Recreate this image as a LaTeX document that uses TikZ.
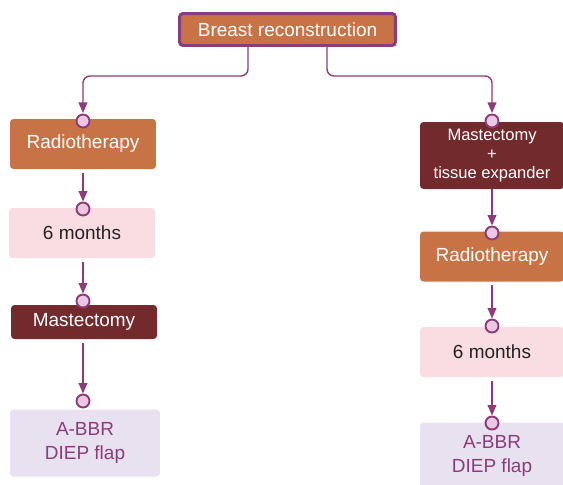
\documentclass[tikz,border=0pt]{standalone}
\usepackage{fontspec}
\setmainfont{Liberation Sans}
\usetikzlibrary{arrows.meta,positioning,calc}
\definecolor{boxorange}{RGB}{200,115,70}
\definecolor{boxred}{RGB}{115,42,45}
\definecolor{boxpink}{RGB}{250,221,226}
\definecolor{boxlilac}{RGB}{232,225,240}
\definecolor{linkpurple}{RGB}{140,60,120}
\definecolor{dotpink}{RGB}{235,200,225}
\definecolor{textgrey}{RGB}{35,35,35}

\begin{document}
\begin{tikzpicture}[x=0.02cm, y=-0.02cm,
  box/.style={rectangle, rounded corners=2pt, align=center, inner sep=0pt, minimum width=2.92cm, minimum height=1cm, font=\fontsize{10.8}{14}\selectfont},
  dot/.style={circle, draw=linkpurple, fill=dotpink, line width=1.1pt, minimum size=0.26cm, inner sep=0pt},
  link/.style={draw=linkpurple, line width=0.8pt, rounded corners=4pt, -{Triangle[length=6pt,width=5pt]}},
]
\path[use as bounding box, clip] (0,0) rectangle (563,484);

\node[box, draw=linkpurple, line width=1.7pt, fill=boxorange, text=white, minimum width=4.32cm, minimum height=0.64cm] (top) at (287.5,29.5) {Breast reconstruction};

% left branch
\node[box, fill=boxorange, text=white] (radl) at (83,144) {Radiotherapy};
\node[box, fill=boxpink, text=textgrey] (sixl) at (82,233) {6 months};
\node[box, fill=boxred, text=white, minimum height=0.68cm] (mastl) at (84,322) {Mastectomy};
\node[box, fill=boxlilac, text=linkpurple, minimum width=3cm, minimum height=1.34cm] (flapl) at (85,443) {A-BBR\\DIEP flap};

% right branch
\node[box, fill=boxred, text=white, minimum width=2.88cm, minimum height=1.34cm, font=\fontsize{9.4}{10.8}\selectfont] (mter) at (492,155.5) {Mastectomy\\+\\tissue expander};
\node[box, fill=boxorange, text=white, minimum width=2.88cm] (radr) at (492,256.5) {Radiotherapy};
\node[box, fill=boxpink, text=textgrey, minimum width=2.88cm] (sixr) at (492,352) {6 months};
\node[box, fill=boxlilac, text=linkpurple, minimum width=2.88cm, minimum height=1.34cm] (flapr) at (492,456) {A-BBR\\DIEP flap};

% connectors
\draw[link] ([xshift=-0.79cm]top.south) -- ++(0,29) -| (83,113);
\draw[link] ([xshift=0.79cm]top.south) -- ++(0,29) -| (492,113);

\node[dot] (dl1) at (83,121) {};
\node[dot] (dl2) at (83,209) {};
\node[dot] (dl3) at (83,301) {};
\node[dot] (dl4) at (83,401) {};
\node[dot] (dr1) at (492,121) {};
\node[dot] (dr2) at (492,233) {};
\node[dot] (dr3) at (492,326) {};
\node[dot] (dr4) at (492,423) {};

\draw[link] ([yshift=-2pt]radl.south -| dl2) -- (dl2.north);
\draw[link] ([yshift=-2pt]sixl.south -| dl3) -- (dl3.north);
\draw[link] ([yshift=-2pt]mastl.south -| dl4) -- (dl4.north);
\draw[link] (mter.south) -- (dr2.north);
\draw[link] ([yshift=-2pt]radr.south) -- (dr3.north);
\draw[link] ([yshift=-2pt]sixr.south) -- (dr4.north);
\end{tikzpicture}
\end{document}
